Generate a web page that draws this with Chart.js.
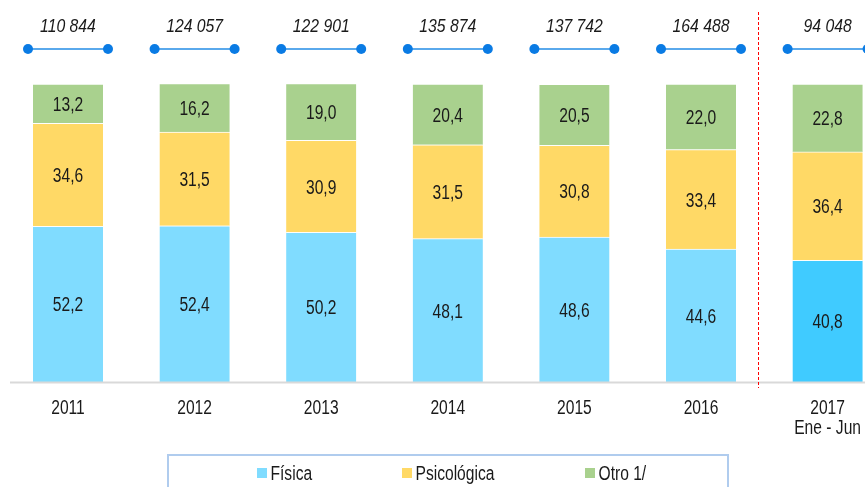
<!DOCTYPE html>
<html>
<head>
<meta charset="utf-8">
<script src="https://cdn.jsdelivr.net/npm/chart.js@4.4.1/dist/chart.umd.min.js"></script>
<style>
  html, body { margin: 0; padding: 0; background: #fff; overflow: hidden; }
  #wrap { width: 865px; height: 487px; overflow: hidden; position: relative; }
  canvas { display: block; }
</style>
</head>
<body>
<div id="wrap"><canvas id="chart" width="900" height="487"></canvas></div>
<script>
// datos
const categorias = ['2011', '2012', '2013', '2014', '2015', '2016', ['2017', 'Ene - Jun']];
const fisica = [52.2, 52.4, 50.2, 48.1, 48.6, 44.6, 40.8];
const psicologica = [34.6, 31.5, 30.9, 31.5, 30.8, 33.4, 36.4];
const otro = [13.2, 16.2, 19.0, 20.4, 20.5, 22.0, 22.8];
const totales = ['110 844', '124 057', '122 901', '135 874', '137 742', '164 488', '94 048'];

const colorFisica = ['#80dcff', '#80dcff', '#80dcff', '#80dcff', '#80dcff', '#80dcff', '#40cbff'];
const textColor = '#1a1a1a';
const FONT = '"Liberation Sans", Arial, sans-serif';

// texto comprimido horizontalmente (como en la imagen original)
function drawText(ctx, text, x, y, font, sx, align) {
    ctx.save();
    ctx.font = font;
    ctx.textAlign = align || 'center';
    ctx.textBaseline = 'alphabetic';
    ctx.fillStyle = textColor;
    ctx.translate(x, y);
    ctx.scale(sx, 1);
    ctx.fillText(text, 0, 0);
    ctx.restore();
}

const decoraciones = {
    id: 'decoraciones',
    afterDatasetsDraw(chart) {
        const ctx = chart.ctx;
        const area = chart.chartArea;
        const x = chart.scales.x;

        // línea del eje
        ctx.save();
        ctx.strokeStyle = '#d9d9d9';
        ctx.lineWidth = 2;
        ctx.beginPath();
        ctx.moveTo(10, area.bottom + 0.5);
        ctx.lineTo(900, area.bottom + 0.5);
        ctx.stroke();
        ctx.restore();

        // etiquetas de valores
        chart.data.datasets.forEach((ds, di) => {
            const meta = chart.getDatasetMeta(di);
            meta.data.forEach((bar, i) => {
                const cy = (bar.y + bar.base) / 2;
                const txt = ds.data[i].toFixed(1).replace('.', ',');
                drawText(ctx, txt, bar.x, cy + 7.2, '20px ' + FONT, 0.78);
            });
        });

        // categorías
        categorias.forEach((c, i) => {
            const cx = x.getPixelForValue(i);
            const lines = Array.isArray(c) ? c : [c];
            lines.forEach((l, k) => {
                drawText(ctx, l, cx, 414 + k * 20, '20px ' + FONT, 0.78);
            });
        });

        // totales con conectores
        totales.forEach((t, i) => {
            const cx = x.getPixelForValue(i);
            drawText(ctx, t, cx, 31.5, 'italic 17.5px ' + FONT, 0.9);
            ctx.save();
            ctx.strokeStyle = '#5aa9ec';
            ctx.lineWidth = 2;
            ctx.beginPath();
            ctx.moveTo(cx - 40, 49);
            ctx.lineTo(cx + 40, 49);
            ctx.stroke();
            ctx.fillStyle = '#0a7be4';
            [cx - 40, cx + 40].forEach(px => {
                ctx.beginPath();
                ctx.arc(px, 49, 5, 0, Math.PI * 2);
                ctx.fill();
            });
            ctx.restore();
        });

        // separador rojo
        const sepX = x.getPixelForValue(5) + (x.getPixelForValue(6) - x.getPixelForValue(5)) * 0.45;
        ctx.save();
        ctx.strokeStyle = '#ff0000';
        ctx.lineWidth = 1;
        ctx.setLineDash([3, 2]);
        ctx.beginPath();
        ctx.moveTo(Math.round(sepX) + 0.5, 12);
        ctx.lineTo(Math.round(sepX) + 0.5, 388);
        ctx.stroke();
        ctx.restore();

        // leyenda
        ctx.save();
        ctx.strokeStyle = '#b0ccee';
        ctx.lineWidth = 2;
        ctx.strokeRect(168, 455, 560, 60);
        ctx.restore();
        const legX = [257, 402, 585];
        chart.data.datasets.forEach((ds, di) => {
            const c = Array.isArray(ds.backgroundColor) ? ds.backgroundColor[0] : ds.backgroundColor;
            ctx.fillStyle = c;
            ctx.fillRect(legX[di], 468, 10, 10);
            drawText(ctx, ds.label, legX[di] + 13.5, 479.5, '20px ' + FONT, 0.78, 'left');
        });
    }
};

new Chart(document.getElementById('chart'), {
    type: 'bar',
    data: {
        labels: categorias,
        datasets: [
            { label: 'Física', data: fisica, backgroundColor: colorFisica },
            { label: 'Psicológica', data: psicologica, backgroundColor: '#ffd966' },
            { label: 'Otro 1/', data: otro, backgroundColor: '#a9d18e' }
        ]
    },
    options: {
        responsive: false,
        animation: false,
        layout: { padding: { top: 84, bottom: 105, left: 4.7, right: 9.1 } },
        datasets: {
            bar: {
                barThickness: 70,
                borderWidth: { top: 1, left: 0, right: 0, bottom: 0 },
                borderColor: 'rgba(255,255,255,0.9)',
                borderSkipped: false
            }
        },
        scales: {
            x: { stacked: true, display: false },
            y: { stacked: true, display: false, min: 0, max: 100 }
        },
        plugins: {
            legend: { display: false },
            tooltip: { enabled: false }
        }
    },
    plugins: [decoraciones]
});
</script>
</body>
</html>
